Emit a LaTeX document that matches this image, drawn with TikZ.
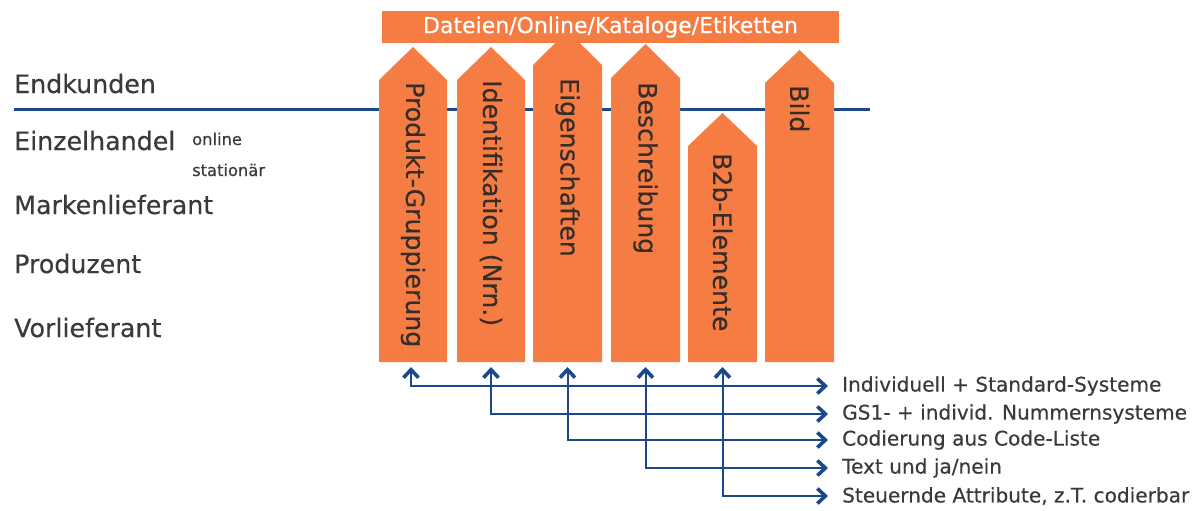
\documentclass[tikz,border=0pt]{standalone}
\usepackage{fontspec}
\setmainfont{DejaVu Sans}[FakeBold=0.35]
\usetikzlibrary{arrows.meta}
\definecolor{orng}{RGB}{245,124,66}
\definecolor{dblue}{RGB}{28,72,140}
\definecolor{txtgray}{RGB}{58,58,58}
\definecolor{vtxt}{RGB}{55,45,40}
\tikzset{
  pent/.style={fill=orng},
  lefttxt/.style={anchor=base west, inner sep=0pt, text=txtgray, font=\fontsize{25.3}{29}\selectfont},
  smalltxt/.style={anchor=base west, inner sep=0pt, text=txtgray, font=\fontsize{16.3}{19}\selectfont},
  vlabel/.style={rotate=-90, anchor=west, inner sep=0pt, text=vtxt, font=\fontsize{25.2}{29}\selectfont},
  righttxt/.style={anchor=west, inner sep=0pt, text=txtgray, font=\fontsize{20.1}{23}\selectfont},
  barb/.tip={Straight Barb[length=8pt,width=15pt,line width=3.6pt 0,line join=miter]},
  conn/.style={draw=dblue, line width=2pt, barb-barb},
}
\newcommand{\pentshape}[5]{%
  \fill[pent] (#1,362) -- (#1,#4) -- ({(#1+#2)/2},#3) -- (#2,#4) -- (#2,362) -- cycle;
  \coordinate (#5) at ({(#1+#2)/2},362);
}
\begin{document}
\begin{tikzpicture}[x=1pt,y=-1pt]
\useasboundingbox[fill=white] (0,0) rectangle (1204,511);
% blue separator line
\coordinate (lineL) at (14,109);
\coordinate (lineR) at (870,109);
\draw[dblue, line width=3pt] (lineL) -- (lineR);
% pentagon arrows: x1 x2 tip shoulder
\pentshape{379}{447}{47}{80}{p1}
\pentshape{457}{525}{47}{80}{p2}
\pentshape{533}{602}{31}{65}{p3}
\pentshape{611}{680}{44}{78}{p4}
\pentshape{688}{757}{113}{146}{p5}
\pentshape{765}{834}{50}{83}{p6}
% banner
\node[fill=orng, minimum width=457pt, minimum height=32pt, inner sep=0pt, text=white,
      font=\fontsize{22}{25}\selectfont] (banner) at (610.5,27) {Dateien/Online/Kataloge/Etiketten};
% vertical labels
\node[vlabel] (v1) at (413,82) {Produkt-Gruppierung};
\node[vlabel] (v2) at (491,80) {Identifikation (Nrn.)};
\node[vlabel] (v3) at (567.5,78) {Eigenschaften};
\node[vlabel] (v4) at (645.5,82) {Beschreibung};
\node[vlabel] (v5) at (722.5,153) {B2b-Elemente};
\node[vlabel] (v6) at (799.5,85) {Bild};
% left labels
\node[lefttxt] (l1) at (14,93) {Endkunden};
\node[lefttxt] (l2) at (14,150) {Einzelhandel};
\node[smalltxt] (s1) at (192,145) {online};
\node[smalltxt] (s2) at (192,176) {stationär};
\node[lefttxt] (l3) at (14,214) {Markenlieferant};
\node[lefttxt] (l4) at (14,273) {Produzent};
\node[lefttxt] (l5) at (14,337) {Vorlieferant};
% right labels
\node[righttxt] (r1) at (842,386) {Individuell + Standard-Systeme};
\node[righttxt] (r2) at (842,414) {GS1- + individ. Nummernsysteme};
\node[righttxt] (r3) at (842,440) {Codierung aus Code-Liste};
\node[righttxt] (r4) at (842,468) {Text und ja/nein};
\node[righttxt] (r5) at (842,496) {Steuernde Attribute, z.T. codierbar};
% connectors
\foreach \i in {1,...,5} {
  \coordinate (a\i) at ([yshift=-5pt]p\i);
  \coordinate (e\i) at ([xshift=-14pt]r\i.west);
}
\draw[conn] ([xshift=-2pt]a1) |- (e1);
\draw[conn] (a2) |- (e2);
\draw[conn] (a3) |- (e3);
\draw[conn] (a4) |- (e4);
\draw[conn] (a5) |- (e5);
\end{tikzpicture}
\end{document}
